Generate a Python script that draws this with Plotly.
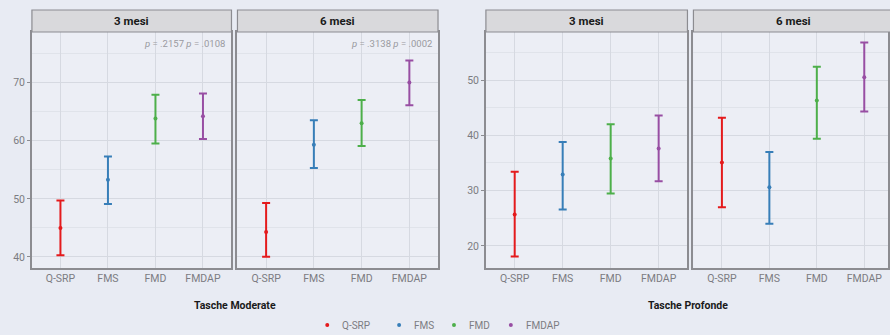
import plotly.graph_objects as go

groups = ["Q-SRP", "FMS", "FMD", "FMDAP"]
colors = ["#E41A1C", "#377EB8", "#4DAF4A", "#984EA3"]
facets = ["3 mesi", "6 mesi"]
panel_titles = ["Tasche Moderate", "Tasche Profonde"]

mod_3_mean = [45.0, 53.3, 63.8, 64.2]
mod_3_low = [40.3, 49.1, 59.5, 60.3]
mod_3_high = [49.7, 57.3, 67.9, 68.1]

mod_6_mean = [44.3, 59.3, 63.0, 70.0]
mod_6_low = [40.05, 55.3, 59.1, 66.1]
mod_6_high = [49.3, 63.5, 67.0, 73.8]

pro_3_mean = [25.7, 32.9, 35.8, 37.6]
pro_3_low = [18.1, 26.6, 29.5, 31.7]
pro_3_high = [33.4, 38.8, 42.0, 43.6]

pro_6_mean = [35.1, 30.6, 46.3, 50.5]
pro_6_low = [27.0, 24.0, 39.4, 44.3]
pro_6_high = [43.2, 37.0, 52.4, 56.8]

p_text = ["<i>p</i> = .2157 <i>p</i> = .0108", "<i>p</i> = .3138 <i>p</i> = .0002"]

W, H = 890, 335
BG = "#e8ebf3"
PANEL = "#eceef5"
GRID = "#d6d9e1"
MINOR = "#e0e3ea"
BORDER = "#8c8c91"
TICK = "#7c7c82"
FONT = "Roboto"


def px_x(v):
    return v / W


def px_y(v):
    return 1 - v / H


panels = [
    # (x0, x1, data, xrange)
    (32, 232, (mod_3_mean, mod_3_low, mod_3_high), [-0.6, 3.6]),
    (238, 439, (mod_6_mean, mod_6_low, mod_6_high), [-0.6, 3.6]),
    (487, 689, (pro_3_mean, pro_3_low, pro_3_high), [-0.6, 3.6]),
    (695, 890, (pro_6_mean, pro_6_low, pro_6_high), [-0.6, 3.5]),
]
panel_y = [1, 1, 2, 2]
top, bottom = 32, 268
strip_top = 10

fig = go.Figure()
layout = dict(
    width=W, height=H, margin=dict(l=0, r=0, t=0, b=0),
    paper_bgcolor=BG, plot_bgcolor=PANEL,
    font=dict(family=FONT, size=10, color=TICK),
    showlegend=False,
)
shapes = []
annotations = []

yranges = {1: [38.1, 78.7], 2: [16.0, 58.7]}
ydomain = [px_y(bottom), px_y(top)]

for k, (x0, x1, (mean, low, high), xr) in enumerate(panels):
    n = "" if k == 0 else str(k + 1)
    xref, yref = "x" + n, "y" + n
    yi = panel_y[k]
    layout["xaxis" + n] = dict(
        domain=[px_x(x0), px_x(x1)], range=xr, anchor=yref,
        tickmode="array", tickvals=[0, 1, 2, 3], ticktext=groups,
        showgrid=True, gridcolor=GRID, gridwidth=1, zeroline=False,
        showline=True, linecolor=BORDER, linewidth=1.6, mirror=True,
        ticks="", tickfont=dict(size=10.5, color=TICK), fixedrange=True,
    )
    ydict = dict(
        domain=ydomain, range=yranges[yi], anchor=xref,
        dtick=10, tick0=0, showgrid=True, gridcolor=GRID, gridwidth=1, zeroline=False,
        minor=dict(dtick=5, showgrid=True, gridcolor=MINOR, gridwidth=1),
        showline=True, linecolor=BORDER, linewidth=1.6, mirror=True,
        fixedrange=True,
    )
    if k in (0, 2):
        ydict.update(ticks="outside", ticklen=3, tickcolor=BORDER,
                     tickfont=dict(size=10.5, color=TICK), showticklabels=True)
    else:
        ydict.update(ticks="", showticklabels=False)
    layout["yaxis" + n] = ydict

    for i, g in enumerate(groups):
        fig.add_trace(go.Scatter(
            x=[i], y=[mean[i]], xaxis=xref, yaxis=yref, mode="markers",
            marker=dict(color=colors[i], size=4),
            error_y=dict(type="data", symmetric=False,
                         array=[high[i] - mean[i]], arrayminus=[mean[i] - low[i]],
                         color=colors[i], thickness=2, width=4),
            name=g, showlegend=False, hoverinfo="skip",
        ))
    # strip
    shapes.append(dict(type="rect", xref="paper", yref="paper",
                       x0=px_x(x0), x1=px_x(x1) if k < 3 else 1.01, y0=px_y(top), y1=px_y(strip_top),
                       fillcolor="#d9d9dc", line=dict(color=BORDER, width=1.2), layer="above"))
    cx = (x0 + x1) / 2 if k < 3 else (695 + 895) / 2
    annotations.append(dict(xref="paper", yref="paper", x=px_x(cx),
                            y=px_y((top + strip_top) / 2), text=f"<b>{facets[k % 2]}</b>",
                            showarrow=False, font=dict(size=11.5, color="#1a1a1a", family=FONT),
                            xanchor="center", yanchor="middle"))
    if k < 2:
        annotations.append(dict(xref="paper", yref="paper", x=px_x(x1 - 4), y=px_y(43),
                                text=p_text[k], showarrow=False, xanchor="right", yanchor="middle",
                                font=dict(size=9.5, color="#9a9aa0", family=FONT)))

annotations.append(dict(xref="paper", yref="paper", x=px_x(236), y=px_y(305), text="<b>Tasche Moderate</b>",
                        showarrow=False, xanchor="center", yanchor="middle",
                        font=dict(size=10.5, color="#1a1a1a", family=FONT)))
annotations.append(dict(xref="paper", yref="paper", x=px_x(690), y=px_y(305), text="<b>Tasche Profonde</b>",
                        showarrow=False, xanchor="center", yanchor="middle",
                        font=dict(size=10.5, color="#1a1a1a", family=FONT)))

# legend (manual, compact like the reference)
legend_dot_x = [328, 400, 455, 512]
for i, g in enumerate(groups):
    dx = legend_dot_x[i]
    shapes.append(dict(type="circle", xref="paper", yref="paper",
                       x0=px_x(dx - 2), x1=px_x(dx + 2), y0=px_y(327), y1=px_y(323),
                       fillcolor=colors[i], line=dict(width=0)))
    annotations.append(dict(xref="paper", yref="paper", x=px_x(dx + 13), y=px_y(325), text=g,
                            showarrow=False, xanchor="left", yanchor="middle",
                            font=dict(size=10, color=TICK, family=FONT)))

layout["shapes"] = shapes
layout["annotations"] = annotations
fig.update_layout(**layout)
fig.write_html("out.html", config={"displayModeBar": False},
               post_script="document.body.style.margin='0px';document.body.style.overflow='hidden';")
